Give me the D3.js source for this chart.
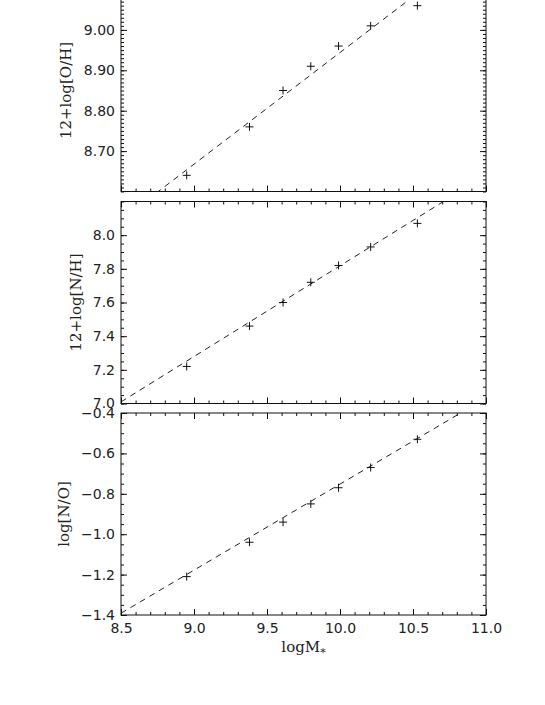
<!DOCTYPE html>
<html>
<head>
<meta charset="utf-8">
<script src="https://cdn.jsdelivr.net/npm/d3@7"></script>
<style>
  html, body { margin: 0; padding: 0; background: #fff; }
  svg { display: block; }
  .tick text { font-family: "DejaVu Sans", sans-serif; font-size: 14px; fill: #222; }
  .title { font-family: "DejaVu Serif", serif; font-size: 15px; fill: #222; }
</style>
</head>
<body>
<svg id="chart" width="545" height="705"></svg>
<script>
// ---- data ----
const logM = [8.95, 9.38, 9.61, 9.80, 9.99, 10.21, 10.53];
const OH   = [8.64, 8.76, 8.85, 8.91, 8.96, 9.01, 9.06];
const NH   = [7.22, 7.46, 7.60, 7.72, 7.82, 7.93, 8.07];
const NO   = [-1.21, -1.04, -0.94, -0.85, -0.77, -0.67, -0.53];
// linear fits: [intercept, slope]
const fitOH = [6.180, 0.2764];
const fitNH = [2.428, 0.539];
const fitNO = [-5.012, 0.426];
const xTicks = [8.5, 9.0, 9.5, 10.0, 10.5, 11.0];
const ohTicks = [8.70, 8.80, 8.90, 9.00, 9.10];
const nhTicks = [7.0, 7.2, 7.4, 7.6, 7.8, 8.0];
const noTicks = [-1.4, -1.2, -1.0, -0.8, -0.6, -0.4];
const xDomain = [8.5, 11.0];

// ---- layout ----
const svg = d3.select("#chart");
const left = 121, right = 486, ph = 202;
const panels = [
  { top: -10.5, domain: [8.6, 9.1], ticks: ohTicks, minor: 0.01, fmt: ".2f", y: OH, fit: fitOH,
    title: "12+log[O/H]", titleX: 71, xlabels: false },
  { top: 201.5, domain: [7.0, 8.2], ticks: nhTicks, minor: 0.05, fmt: ".1f", y: NH, fit: fitNH,
    title: "12+log[N/H]", titleX: 81, xlabels: false },
  { top: 413, domain: [-1.4, -0.4], ticks: noTicks, minor: 0.05, fmt: ".1f", y: NO, fit: fitNO,
    title: "log[N/O]", titleX: 69, xlabels: true }
];

const x = d3.scaleLinear().domain(xDomain).range([left, right]);
const xMinor = d3.range(Math.round(xDomain[0] * 10), Math.round(xDomain[1] * 10) + 1).map(d => d / 10);

function minorVals(domain, step) {
  const n0 = Math.round(domain[0] / step), n1 = Math.round(domain[1] / step);
  return d3.range(n0, n1 + 1).map(i => +(i * step).toFixed(4));
}

function styleAxis(g) {
  g.select(".domain").remove();
  g.selectAll(".tick line").attr("stroke", "#111").attr("stroke-width", 1);
}

panels.forEach((p, i) => {
  const bottom = p.top + ph;
  const y = d3.scaleLinear().domain(p.domain).range([bottom, p.top]);
  const g = svg.append("g");
  const yMinor = minorVals(p.domain, p.minor);

  // clip
  const clipId = "clip" + i;
  svg.append("clipPath").attr("id", clipId).append("rect")
    .attr("x", left).attr("y", p.top).attr("width", right - left).attr("height", ph);

  // minor ticks
  g.append("g").attr("transform", `translate(${left},0)`)
    .call(d3.axisLeft(y).tickValues(yMinor).tickSize(-3).tickFormat("")).call(styleAxis);
  g.append("g").attr("transform", `translate(${right},0)`)
    .call(d3.axisRight(y).tickValues(yMinor).tickSize(-3).tickFormat("")).call(styleAxis);
  g.append("g").attr("transform", `translate(0,${bottom})`)
    .call(d3.axisBottom(x).tickValues(xMinor).tickSize(-3).tickFormat("")).call(styleAxis);
  g.append("g").attr("transform", `translate(0,${p.top})`)
    .call(d3.axisTop(x).tickValues(xMinor).tickSize(-3).tickFormat("")).call(styleAxis);

  // major ticks
  g.append("g").attr("transform", `translate(${left},0)`)
    .call(d3.axisLeft(y).tickValues(p.ticks).tickSize(-6).tickPadding(6).tickFormat(d3.format(p.fmt)))
    .call(styleAxis);
  g.append("g").attr("transform", `translate(${right},0)`)
    .call(d3.axisRight(y).tickValues(p.ticks).tickSize(-6).tickFormat("")).call(styleAxis);
  const xb = g.append("g").attr("transform", `translate(0,${bottom})`)
    .call(d3.axisBottom(x).tickValues(xTicks).tickSize(-6).tickPadding(8)
      .tickFormat(p.xlabels ? d3.format(".1f") : ""))
    .call(styleAxis);
  g.append("g").attr("transform", `translate(0,${p.top})`)
    .call(d3.axisTop(x).tickValues(xTicks).tickSize(-6).tickFormat("")).call(styleAxis);

  // frame
  g.append("rect").attr("x", left).attr("y", p.top).attr("width", right - left).attr("height", ph)
    .attr("fill", "none").attr("stroke", "#111").attr("stroke-width", 1);

  // fit line
  const fx = xDomain;
  g.append("line")
    .attr("clip-path", `url(#${clipId})`)
    .attr("x1", x(fx[0])).attr("y1", y(p.fit[0] + p.fit[1] * fx[0]))
    .attr("x2", x(fx[1])).attr("y2", y(p.fit[0] + p.fit[1] * fx[1]))
    .attr("stroke", "#222").attr("stroke-width", 1).attr("stroke-dasharray", "6,5");

  // points (plus signs)
  const pts = g.append("g").selectAll("path").data(logM.map((d, k) => [d, p.y[k]])).join("path")
    .attr("d", d => {
      const cx = x(d[0]), cy = y(d[1]), s = 4;
      return `M${cx - s},${cy}H${cx + s}M${cx},${cy - s}V${cy + s}`;
    })
    .attr("stroke", "#111").attr("stroke-width", 1).attr("fill", "none");

  // y title
  g.append("text").attr("class", "title")
    .attr("transform", `translate(${p.titleX},${p.top + ph / 2}) rotate(-90)`)
    .attr("text-anchor", "middle").text(p.title);
});

// x title
const xt = svg.append("text").attr("class", "title")
  .attr("x", (left + right) / 2).attr("y", 652).attr("text-anchor", "middle");
xt.append("tspan").text("logM");
xt.append("tspan").attr("dy", 4).attr("font-size", 11).text("*");
</script>
</body>
</html>
